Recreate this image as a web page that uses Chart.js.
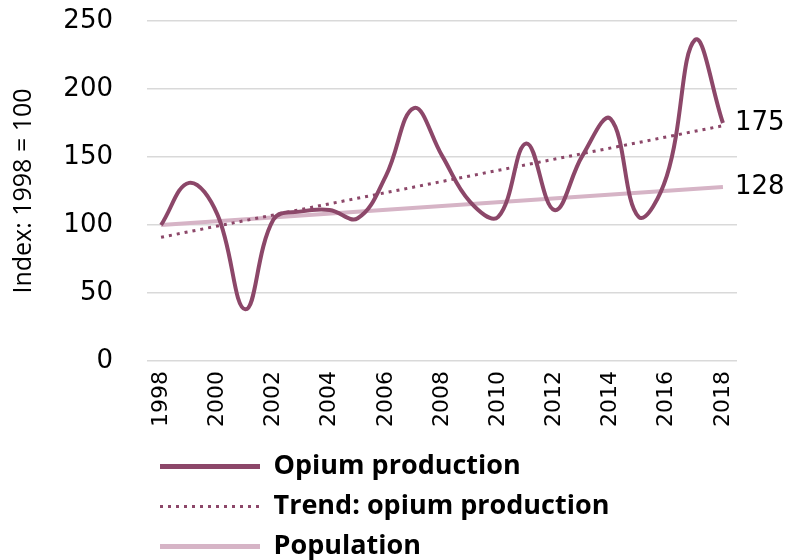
<!DOCTYPE html>
<html>
<head>
<meta charset="utf-8">
<script src="https://cdn.jsdelivr.net/npm/chart.js@4"></script>
<style>
html,body{margin:0;padding:0;background:#fff}
#wrap{width:788px;height:560px}
</style>
</head>
<body>
<div id="wrap"><canvas id="c" width="788" height="560"></canvas></div>
<script>
const years = ['1998','1999','2000','2001','2002','2003','2004','2005','2006','2007','2008','2009','2010','2011','2012','2013','2014','2015','2016','2017','2018'];
const xTickLabels = ['1998','2000','2002','2004','2006','2008','2010','2012','2014','2016','2018'];
const opium = [100,131,108,38,104,110,111,105,136,186,151,117,106,160,111,151,178,106,136,236,175];
const trend = [91,null,null,null,null,null,null,null,null,null,null,null,null,null,null,null,null,null,null,null,173];
const population = [100,null,null,null,null,null,null,null,null,null,null,null,null,null,null,null,null,null,null,null,128];
const seriesNames = ['Opium production','Trend: opium production','Population'];
const yMin = 0, yMax = 250, yStep = 50;

const C_OPIUM = '#8c4769';
const C_POP = '#d6b4c6';
const legendLineWidths = [5, 3, 5];

const endLabels = {
  id: 'endLabels',
  afterDatasetsDraw(chart) {
    const ctx = chart.ctx;
    ctx.save();
    ctx.font = '26px "DejaVu Sans"';
    ctx.fillStyle = '#000';
    ctx.textBaseline = 'middle';
    ctx.textAlign = 'left';
    [0, 2].forEach(idx => {
      const meta = chart.getDatasetMeta(idx);
      const data = chart.data.datasets[idx].data;
      const pt = meta.data[data.length - 1];
      ctx.fillText(String(Math.round(data[data.length - 1])), chart.chartArea.right - 2, pt.y);
    });
    ctx.restore();
  }
};

const legendShift = {
  id: 'legendShift',
  afterLayout(chart) {
    const l = chart.legend;
    if (l) { l.top += 10; l.bottom += 10; }
  }
};

new Chart(document.getElementById('c'), {
  type: 'line',
  data: {
    labels: years,
    datasets: [
      { label: seriesNames[0], data: opium, borderColor: C_OPIUM, backgroundColor: C_OPIUM, borderWidth: 4, tension: 0.4, pointRadius: 0, fill: false },
      { label: seriesNames[1], data: trend, borderColor: C_OPIUM, backgroundColor: C_OPIUM, borderWidth: 3, borderDash: [3, 5], spanGaps: true, tension: 0, pointRadius: 0, fill: false },
      { label: seriesNames[2], data: population, borderColor: C_POP, backgroundColor: C_POP, borderWidth: 4, spanGaps: true, tension: 0, pointRadius: 0, fill: false }
    ]
  },
  options: {
    responsive: false,
    animation: false,
    devicePixelRatio: 1,
    layout: { padding: { top: 21, right: 51, left: 0, bottom: 0 } },
    plugins: {
      tooltip: { enabled: false },
      legend: {
        position: 'bottom',
        align: 'start',
        fullSize: false,
        labels: {
          usePointStyle: true,
          pointStyle: 'line',
          pointStyleWidth: 100,
          padding: 13,
          color: '#000',
          font: { family: '"Open Sans"', size: 27, weight: 'bold' },
          generateLabels: chart => chart.data.datasets.map((ds, i) => ({
            text: ds.label,
            fillStyle: ds.borderColor,
            strokeStyle: ds.borderColor,
            lineWidth: legendLineWidths[i],
            lineDash: ds.borderDash || [],
            lineCap: 'butt',
            pointStyle: 'line',
            fontColor: '#000',
            hidden: false,
            datasetIndex: i
          }))
        }
      }
    },
    scales: {
      x: {
        offset: true,
        grid: { display: false, drawTicks: false },
        border: { display: false },
        afterFit: s => { s.height = 69; },
        ticks: {
          autoSkip: false,
          minRotation: 90,
          maxRotation: 90,
          padding: 10,
          color: '#000',
          font: { family: '"DejaVu Sans"', size: 22 },
          callback: function(v, i) { const l = years[i]; return xTickLabels.includes(l) ? l : ''; }
        }
      },
      y: {
        min: yMin, max: yMax,
        afterFit: s => { s.width = 147; },
        grid: { color: '#d9d9d9', lineWidth: 1.5, drawTicks: true, tickLength: 31, tickColor: 'rgba(0,0,0,0)' },
        border: { display: false },
        ticks: { stepSize: yStep, padding: 3, color: '#000', font: { family: '"DejaVu Sans"', size: 26 } },
        title: { display: true, text: 'Index: 1998 = 100', color: '#000', padding: { top: 9, bottom: 0 }, font: { family: '"Open Sans"', size: 25 } }
      }
    }
  },
  plugins: [endLabels, legendShift]
});
</script>
</body>
</html>
